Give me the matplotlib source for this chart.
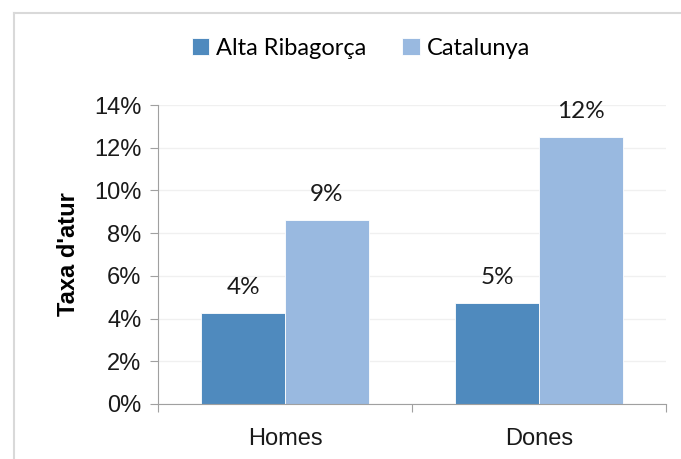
import numpy as np
import matplotlib.pyplot as plt
from matplotlib.lines import Line2D
from matplotlib.ticker import FuncFormatter

categories = ['Homes', 'Dones']
alta = [4.25, 4.72]
catalunya = [8.6, 12.5]
labels_alta = ['4%', '5%']
labels_cat = ['9%', '12%']
series_names = ['Alta Ribagorça', 'Catalunya']

fig = plt.figure(figsize=(6.81, 4.59), dpi=100)
ax = fig.add_axes([0.232, 0.12, 0.746, 0.651])

# marc del gràfic
fig.add_artist(Line2D([13.5 / 681, 13.5 / 681], [0, 1 - 12.5 / 459], transform=fig.transFigure,
                      color='#d9d9d9', lw=1.5))
fig.add_artist(Line2D([13.5 / 681, 1], [1 - 12.5 / 459, 1 - 12.5 / 459], transform=fig.transFigure,
                      color='#d9d9d9', lw=1.5))

x = np.arange(len(categories))
w = 0.33
b1 = ax.bar(x - w / 2, alta, w, color='#4f8abe', edgecolor='white', lw=0.6, label=series_names[0])
b2 = ax.bar(x + w / 2, catalunya, w, color='#99b9e0', edgecolor='white', lw=0.6, label=series_names[1])

for rect, t in zip(b1, labels_alta):
    ax.text(rect.get_x() + rect.get_width() / 2, rect.get_height() + 0.7, t,
            ha='center', va='bottom', fontsize=17.5, family='Lato', color='#1a1a1a')
for rect, t in zip(b2, labels_cat):
    ax.text(rect.get_x() + rect.get_width() / 2, rect.get_height() + 0.7, t,
            ha='center', va='bottom', fontsize=17.5, family='Lato', color='#1a1a1a')

ax.set_xlim(-0.5, 1.5)
ax.set_ylim(0, 14)
ax.set_yticks(np.arange(0, 15, 2))
ax.yaxis.set_major_formatter(FuncFormatter(lambda v, p: '%d%%' % v))
ax.set_xticks([-0.5, 0.5, 1.5], minor=False)
ax.set_xticklabels([])
ax.set_xticks(x, minor=True)
ax.set_xticklabels(categories, minor=True)
ax.tick_params(axis='x', which='minor', length=0, pad=17, labelsize=17)
ax.tick_params(axis='x', which='major', length=6, color='#a0a0a0')
ax.tick_params(axis='y', length=6, color='#a0a0a0', labelsize=17, pad=6)
for lab in ax.get_yticklabels() + ax.get_xticklabels(minor=True):
    lab.set_family('Liberation Sans')
    lab.set_color('#1a1a1a')

ax.grid(axis='y', color='#f0f0f0', lw=1)
ax.set_axisbelow(True)
for s in ['top', 'right']:
    ax.spines[s].set_visible(False)
ax.spines['left'].set_color('#a0a0a0')
ax.spines['bottom'].set_color('#a0a0a0')

ax.set_ylabel("Taxa d'atur", fontsize=17, fontweight='bold', family='Liberation Sans', labelpad=10)

fig.legend(handles=[b1, b2], loc='center', bbox_to_anchor=(0.53, 0.895), ncol=2, frameon=False,
           prop={'family': 'Lato', 'size': 17}, handlelength=0.75, handleheight=0.75,
           handletextpad=0.3, columnspacing=1.5)

fig.savefig('out.png', dpi=100)
